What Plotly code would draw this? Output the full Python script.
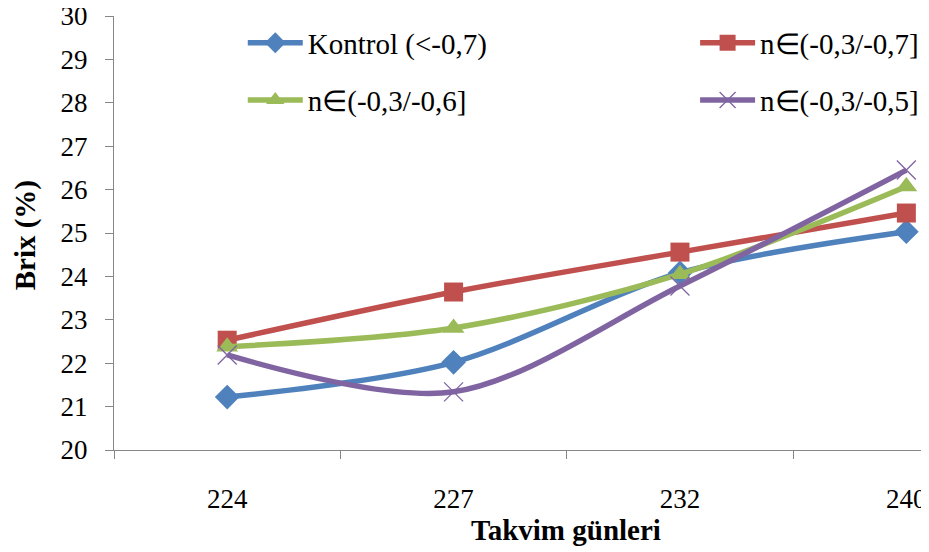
import plotly.graph_objects as go

days = ["224", "227", "232", "240"]
kontrol = [21.22, 22.02, 24.08, 25.03]
n_03_07 = [22.53, 23.64, 24.56, 25.46]
n_03_06 = [22.38, 22.81, 24.05, 26.07]
n_03_05 = [22.19, 21.34, 23.78, 26.45]

names = ["Kontrol (<-0,7)", "n\u2208(-0,3/-0,7]", "n\u2208(-0,3/-0,6]", "n\u2208(-0,3/-0,5]"]
series = [kontrol, n_03_07, n_03_06, n_03_05]
colors = ["#4F81BD", "#C0504D", "#9BBB59", "#8064A2"]
symbols = ["diamond", "square", "triangle-up", "x-thin-open"]
sizes = [19, 19, 19, 19]
legends = ["legend", "legend2", "legend3", "legend4"]

fig = go.Figure()
for name, vals, c, s, sz, lg in zip(names, series, colors, symbols, sizes, legends):
    marker = dict(symbol=s, size=sz, color=c)
    if s == "x-thin-open":
        marker["line"] = dict(color="#9A86BE", width=1.3)
    fig.add_trace(go.Scatter(
        x=days, y=vals, name=name, mode="lines+markers", showlegend=True,
        line=dict(color=c, width=5.5, shape="spline", smoothing=0.9),
        marker=marker, legend=lg,
    ))

font_family = "Liberation Serif, Times New Roman, serif"


def leg(x, y):
    return dict(
        orientation="h", xanchor="left", yanchor="middle", x=x, y=y,
        font=dict(family=font_family, size=29, color="black"),
        bgcolor="rgba(0,0,0,0)", itemwidth=55, visible=True,
    )


# page body has an 8px margin, so the figure is drawn 8px right and down
fig.update_layout(
    width=921, height=544,
    margin=dict(l=106, r=0, t=8, b=102, autoexpand=False),
    paper_bgcolor="white", plot_bgcolor="white",
    font=dict(family=font_family, color="black"),
    showlegend=True,
    legend=leg(0.158, 0.938),
    legend2=leg(0.713, 0.938),
    legend3=leg(0.158, 0.806),
    legend4=leg(0.713, 0.806),
    xaxis=dict(
        type="category", range=[-0.5, 3.1], automargin=False,
        showline=True, linecolor="#868686", linewidth=1,
        ticks="outside", tickson="boundaries", ticklen=8, tickcolor="#868686",
        tickfont=dict(family=font_family, size=27, color="black"),
        ticklabelstandoff=25, ticklabeloverflow="allow",
        showgrid=False, zeroline=False,
    ),
    yaxis=dict(
        range=[20, 30], dtick=1, automargin=False,
        showline=True, linecolor="#868686", linewidth=1,
        ticks="outside", ticklen=8, tickcolor="#868686",
        tickfont=dict(family=font_family, size=27, color="black"),
        ticklabelstandoff=12, ticklabeloverflow="allow",
        showgrid=False, zeroline=False,
    ),
    annotations=[
        dict(text="<b>Takvim günleri</b>", xref="paper", yref="paper",
             x=0.555, y=-0.184, xanchor="center", yanchor="middle", showarrow=False,
             font=dict(family=font_family, size=29, color="black")),
        dict(text="<b>Brix (%)</b>", xref="paper", yref="paper", textangle=-90,
             x=-0.109, y=0.495, xanchor="center", yanchor="middle", showarrow=False,
             font=dict(family=font_family, size=29, color="black")),
    ],
)

fig.write_html("out.html")
